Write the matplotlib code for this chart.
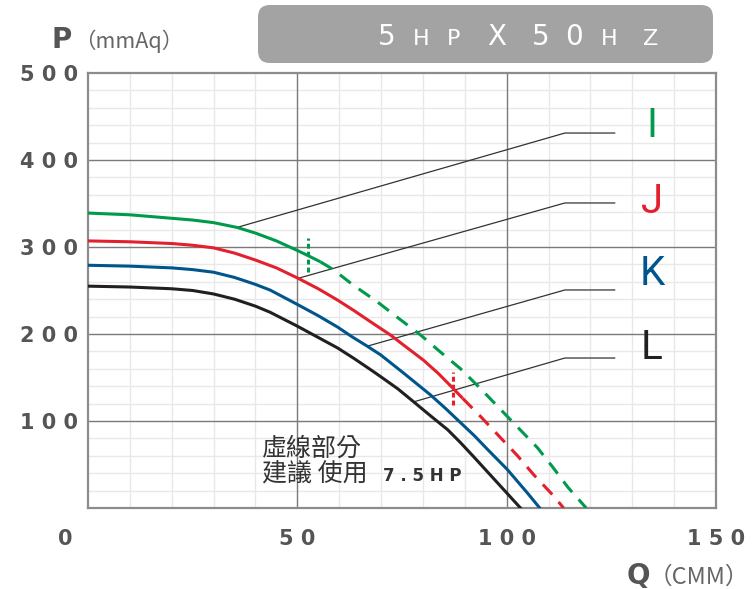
import numpy as np
import matplotlib
matplotlib.use("Agg")
import matplotlib.pyplot as plt
from matplotlib.patches import FancyBboxPatch
from matplotlib.transforms import ScaledTranslation

# curve data (Q in CMM, P in mmAq)
i_solid_q = [0, 10, 20, 25, 30, 35.6, 40, 45, 50, 52.6, 55.5]
i_solid_p = [339, 337, 333, 331, 328, 322.5, 316, 307, 296, 290, 283]
i_dash_q = [55.5, 58.6, 63.4, 69.1, 74.2, 79.4, 84, 89, 93.8, 98.6, 103, 107.4, 111, 114.6, 119]
i_dash_p = [283, 274, 256, 237, 218, 199, 180, 160, 137, 113, 91, 69, 47, 24, 0]

j_solid_q = [0, 10, 20, 25, 30, 35, 40, 45, 50.2, 55, 59.6, 63.5, 67.5, 72.2, 76, 80.1, 83.6, 87.1, 89.5]
j_solid_p = [307, 306, 304, 302, 299, 293, 285, 276, 264, 252, 239, 227, 214, 199, 185, 170, 155, 138, 126]
j_dash_q = [89.5, 94, 98.1, 102.6, 106.5, 111, 113.6]
j_dash_p = [126, 104, 83, 60, 38, 15, 0]

k_q = [0, 10, 20, 25, 30, 35, 40, 43.5, 50, 55, 59.6, 63, 66.7, 69.9, 75.4, 81.8, 85.5,
       89, 92.3, 95.5, 100.2, 105, 107.9]
k_p = [279, 278, 276, 274, 271, 265, 257, 250.5, 234, 221, 208, 197, 186, 176, 155, 130, 114,
       98, 83, 67, 44, 17, 0]

l_q = [0, 10, 20, 25, 30, 35, 40, 43.5, 50, 55, 59.6, 63.5, 67.5, 69.9, 74, 77.8, 81.8,
       85.9, 89, 92.1, 97.8, 103.3]
l_p = [255, 254, 252, 250, 246, 240, 232, 225, 209, 196, 184, 172, 159, 151, 137, 122, 106,
       90, 75, 59, 29, 0]

# 7.5HP limit markers
i_mark_q = [52.6, 52.6]
i_mark_p = [271, 310]
j_mark_q = [87.1, 87.1]
j_mark_p = [118, 156]

# leader lines: start on curve -> bend -> end
names = ["I", "J", "K", "L"]
colors = ["#009a4c", "#e3202d", "#00568c", "#231f20"]
lead_start_q = [35.6, 50.2, 66.7, 77.8]
lead_start_p = [322.5, 264, 186, 122]
lead_bend_q = 113.9
lead_end_q = 125.8
lead_p = [431, 350.6, 250.6, 172.4]
label_q = 134.7
label_p = [440, 352, 270, 184]

x_ticks = [0, 50, 100, 150]
y_ticks = [100, 200, 300, 400, 500]

W, H = 755, 589
fig = plt.figure(figsize=(W / 100, H / 100), dpi=100)
ax = fig.add_axes([88 / W, 1 - 508 / H, (716 - 88) / W, (508 - 73) / H])


def px(x, y):
    return x / W, 1 - y / H


ax.set_xlim(0, 150)
ax.set_ylim(0, 500)

# grid
for q in range(10, 150, 10):
    if q % 50:
        ax.axvline(q, color="#e8e8e8", lw=1, zorder=0)
for p in range(20, 500, 20):
    if p % 100:
        ax.axhline(p, color="#e8e8e8", lw=1, zorder=0)
for q in [50, 100]:
    ax.axvline(q, color="#7a7a7a", lw=1, zorder=1)
for p in [100, 200, 300, 400]:
    ax.axhline(p, color="#7a7a7a", lw=1, zorder=1)

for s in ax.spines.values():
    s.set_color("#8c8c8c")
    s.set_linewidth(1.6)

# curves
lw = 2.2
ax.plot(i_solid_q, i_solid_p, color=colors[0], lw=lw, zorder=4, solid_capstyle="butt")
ax.plot(i_dash_q, i_dash_p, color=colors[0], lw=lw, zorder=4, dashes=(4.5, 3.2))
ax.plot(j_solid_q, j_solid_p, color=colors[1], lw=lw, zorder=4, solid_capstyle="butt")
ax.plot(j_dash_q, j_dash_p, color=colors[1], lw=lw, zorder=4, dashes=(4.5, 3.2))
ax.plot(k_q, k_p, color=colors[2], lw=lw, zorder=4)
ax.plot(l_q, l_p, color=colors[3], lw=lw, zorder=4)
ax.plot(i_mark_q, i_mark_p, color=colors[0], lw=lw, zorder=5, dashes=(1.6, 1))
ax.plot(j_mark_q, j_mark_p, color=colors[1], lw=lw, zorder=5, dashes=(1.6, 1))

# leaders and labels
for k in range(4):
    ax.plot([lead_start_q[k], lead_bend_q, lead_end_q],
            [lead_start_p[k], lead_p[k], lead_p[k]],
            color="#333333", lw=0.9, zorder=3)
    ax.text(label_q, label_p[k], names[k], color=colors[k], fontsize=29,
            family="Roboto", ha="center", va="center", zorder=6)

# ticks (letter-spaced, like the wide font of the original)
ax.set_xticks(x_ticks)
ax.set_xticklabels([" ".join(str(v)) for v in x_ticks])
ax.set_yticks(y_ticks)
ax.set_yticklabels([" ".join(str(v)) for v in y_ticks])
ax.tick_params(length=0, labelsize=15, labelcolor="#555555")
ax.tick_params(axis="x", pad=15)
ax.tick_params(axis="y", pad=7)
for t in ax.get_xticklabels() + ax.get_yticklabels():
    t.set_fontweight("bold")
x0 = ax.get_xticklabels()[0]
x0.set_transform(x0.get_transform() + ScaledTranslation(-0.23, 0, fig.dpi_scale_trans))

# axis titles
fig.text(*px(52, 48), "P", fontsize=20, fontweight="bold", color="#555555", va="baseline")
fig.text(*px(74, 48), "（mmAq）", fontsize=15.5, color="#666666", va="baseline",
         family=["Noto Sans CJK TC", "DejaVu Sans"])
fig.text(*px(627, 584), "Q", fontsize=20, fontweight="bold", color="#555555", va="baseline")
fig.text(*px(649, 584), "（CMM）", fontsize=17, color="#666666", va="baseline",
         family=["Noto Sans CJK TC", "DejaVu Sans"])

# title box
box = FancyBboxPatch((2.58, (H - 63) / 100), 4.55, 0.58,
                     boxstyle="round,pad=0,rounding_size=0.12",
                     transform=fig.dpi_scale_trans, facecolor="#a3a3a3",
                     edgecolor="none", zorder=0)
fig.patches.append(box)
title_chars = ["5", "H", "P", "X", "5", "0", "H", "Z"]
title_x = [387, 421, 454, 497, 541, 574, 609, 651]
title_big = [True, False, False, True, True, True, False, False]
for c, x, big in zip(title_chars, title_x, title_big):
    fig.text(*px(x, 45), c, color="white", fontsize=20 if big else 16,
             ha="center", va="baseline", zorder=5)

# note
cjk = ["Noto Sans CJK TC", "DejaVu Sans"]
fig.text(*px(262, 449), "虛線部分", fontsize=18, color="#333333", va="center", family=cjk)
fig.text(*px(262, 474), "建議 使用", fontsize=18, color="#333333", va="center", family=cjk)
fig.text(*px(383, 476), "7 . 5 H P", fontsize=12, fontweight="bold",
         color="#333333", va="center")

fig.savefig("out.png", dpi=100)
